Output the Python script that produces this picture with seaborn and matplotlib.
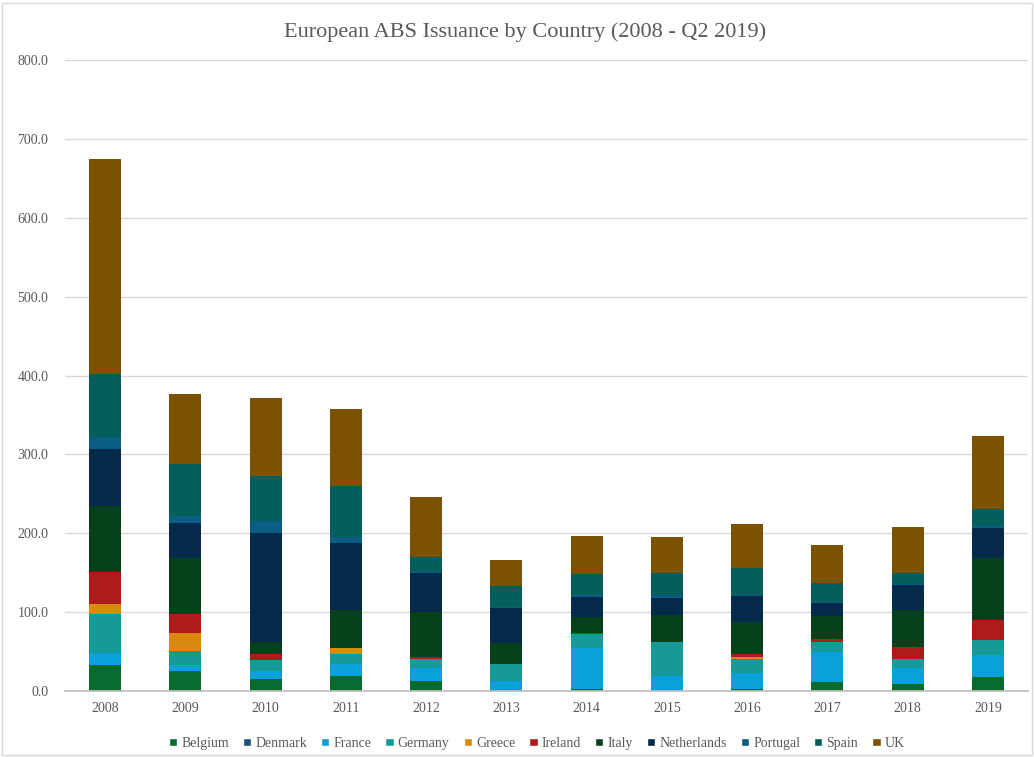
import matplotlib
matplotlib.use("Agg")
import matplotlib.pyplot as plt
from matplotlib.patches import Patch, Rectangle
import seaborn as sns
import pandas as pd
import numpy as np

years = ["2008", "2009", "2010", "2011", "2012", "2013", "2014", "2015", "2016", "2017", "2018", "2019"]
countries = ["Belgium", "Denmark", "France", "Germany", "Greece", "Ireland", "Italy",
             "Netherlands", "Portugal", "Spain", "UK"]

belgium     = [33.0, 25.0, 15.0, 19.0, 13.0, 1.0, 3.0, 0.5, 3.0, 12.0, 8.4, 18.0]
denmark     = [0.0, 0.0, 0.0, 0.0, 0.0, 0.0, 0.0, 0.0, 0.0, 0.0, 0.0, 0.0]
france      = [15.0, 8.0, 10.0, 15.0, 15.7, 12.0, 51.0, 18.0, 20.0, 37.0, 20.3, 28.0]
germany     = [50.0, 18.0, 14.0, 13.5, 11.3, 21.0, 18.0, 44.0, 17.0, 12.5, 12.0, 19.0]
greece      = [12.5, 22.0, 0.5, 6.5, 0.0, 0.0, 0.0, 0.0, 3.0, 0.0, 0.0, 0.0]
ireland     = [40.5, 25.0, 7.0, 0.0, 2.5, 0.0, 2.0, 0.0, 4.0, 5.0, 14.7, 24.5]
italy       = [83.0, 70.0, 16.0, 48.7, 57.8, 26.6, 20.0, 34.0, 40.0, 29.0, 47.4, 79.4]
netherlands = [72.5, 45.0, 138.0, 85.3, 49.5, 44.0, 25.0, 21.0, 34.0, 16.0, 31.3, 38.0]
portugal    = [15.0, 9.0, 15.5, 7.6, 0.5, 2.0, 3.0, 4.5, 1.0, 1.0, 2.0, 2.0]
spain       = [80.0, 66.0, 56.0, 64.4, 19.0, 26.0, 26.0, 28.0, 33.5, 24.5, 14.0, 21.3]
uk          = [272.5, 88.0, 100.0, 98.0, 77.0, 33.0, 49.0, 45.0, 56.0, 47.5, 58.0, 93.0]

colors = ["#086B2D", "#1B4F7A", "#0AA0DA", "#169A97", "#D9890D", "#AE1B1B",
          "#05401A", "#05294B", "#0B5D84", "#055E5C", "#7B5200"]

series = [belgium, denmark, france, germany, greece, ireland, italy,
          netherlands, portugal, spain, uk]

sns.set_theme(style="white")
plt.rcParams["font.family"] = ["Liberation Serif", "DejaVu Serif"]

fig = plt.figure(figsize=(10.34, 7.57), dpi=100)
ax = fig.add_axes([0.0629, 0.0872, 0.9313, 0.8335])

cum = np.cumsum(np.array(series), axis=0)
# draw from the top of the stack down so each lower layer overlays
for i in range(len(countries) - 1, -1, -1):
    df = pd.DataFrame({"year": years, "value": cum[i]})
    sns.barplot(data=df, x="year", y="value", color=colors[i], width=0.4,
                saturation=1, ax=ax, zorder=2, linewidth=0)

ax.set_ylim(0, 800)
ax.set_xlim(-0.5, len(years) - 0.5)
ax.set_yticks(np.arange(0, 801, 100))
ax.set_yticklabels([f"{v:.1f}" for v in np.arange(0, 801, 100)])
ax.yaxis.grid(True, color="#D9D9D9", linewidth=1, zorder=0)
ax.set_axisbelow(True)
ax.set_xlabel("")
ax.set_ylabel("")
for s in ["top", "right", "left"]:
    ax.spines[s].set_visible(False)
ax.spines["bottom"].set_color("#BFBFBF")
ax.tick_params(axis="both", length=0, labelsize=10, colors="#595959", pad=12)
ax.tick_params(axis="x", pad=8)

fig.text(0.508, 0.957, "European ABS Issuance by Country (2008 - Q2 2019)", fontsize=16,
         color="#595959", ha="center", va="center")

handles = [Patch(facecolor=c, label=n) for c, n in zip(colors, countries)]
leg = ax.legend(handles=handles, loc="upper center", bbox_to_anchor=(0.49, -0.053),
                ncol=11, frameon=False, fontsize=10, handlelength=0.6,
                handleheight=0.6, handletextpad=0.3, columnspacing=1.0)
for t in leg.get_texts():
    t.set_color("#595959")

fig.patches.append(Rectangle((0.002, 0.002), 0.996, 0.994, transform=fig.transFigure,
                             fill=False, edgecolor="#D9D9D9", linewidth=1))

fig.savefig("out.png", dpi=100)
